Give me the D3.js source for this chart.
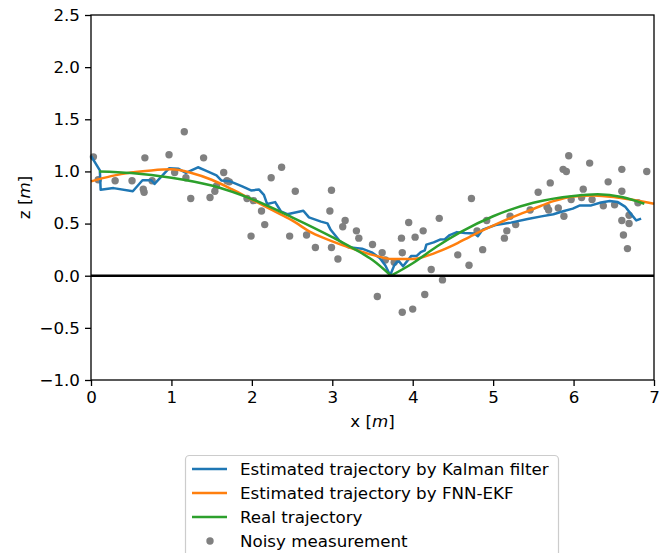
<!DOCTYPE html>
<html>
<head>
<meta charset="utf-8">
<script src="https://cdn.jsdelivr.net/npm/d3@7"></script>
<style>
  body { margin: 0; background: #fff; }
  svg text { font-family: "DejaVu Sans", sans-serif; }
</style>
</head>
<body>
<svg id="chart"></svg>
<script>
// noisy measurements (x, z)
const measX = [0.03, 0.09, 0.30, 0.51, 0.67, 0.65, 0.66, 0.76, 0.97, 1.04, 1.16, 1.18, 1.24, 1.40, 1.48, 1.54, 1.56, 1.65, 1.69, 1.72,
  1.94, 2.02, 1.99, 2.12, 2.16, 2.24, 2.37, 2.54, 2.47, 2.68, 2.79, 2.99, 2.97, 2.99, 3.07, 3.13, 3.16, 3.30, 3.33, 3.50,
  3.56, 3.62, 3.66, 3.77, 3.87, 3.86, 3.95, 4.03, 4.13, 4.33, 4.23, 4.37, 4.15, 4.00, 3.87, 4.56, 4.70, 4.73, 4.87, 4.80,
  4.92, 5.14, 5.17, 5.21, 5.28, 5.46, 5.56, 5.67, 5.69, 5.71, 5.81, 5.88, 5.87, 5.91, 5.94, 5.97, 6.12, 6.10, 6.20, 6.23,
  6.37, 6.43, 6.51, 6.60, 6.60, 6.60, 6.69, 6.69, 6.62, 6.67, 6.80, 6.91];
const measZ = [1.14, 0.92, 0.91, 0.91, 1.13, 0.83, 0.80, 0.91, 1.16, 0.99, 1.38, 0.94, 0.74, 1.13, 0.75, 0.81, 0.86, 0.99, 0.91, 0.90,
  0.74, 0.72, 0.38, 0.62, 0.49, 0.94, 1.04, 0.81, 0.38, 0.39, 0.27, 0.82, 0.62, 0.27, 0.16, 0.47, 0.53, 0.43, 0.36, 0.30,
  -0.20, 0.22, 0.15, 0.13, 0.22, 0.36, 0.51, 0.37, 0.43, 0.55, 0.06, -0.04, -0.18, -0.32, -0.35, 0.20, 0.10, 0.74, 0.25, 0.43,
  0.53, 0.36, 0.43, 0.57, 0.49, 0.63, 0.80, 0.66, 0.63, 0.89, 0.65, 0.57, 1.02, 1.00, 1.15, 0.73, 0.83, 0.75, 1.08, 0.73,
  0.67, 0.90, 0.68, 1.02, 0.81, 0.53, 0.50, 0.58, 0.39, 0.26, 0.70, 1.00];

// Kalman filter estimate
const kalmanX = [0.00, 0.11, 0.12, 0.28, 0.52, 0.64, 0.75, 0.79, 0.97, 1.09, 1.18, 1.33, 1.42, 1.56, 1.62, 1.73, 1.88, 1.99, 2.09, 2.15,
  2.19, 2.29, 2.36, 2.44, 2.64, 2.71, 2.86, 2.94, 2.98, 3.09, 3.20, 3.37, 3.49, 3.59, 3.66, 3.72, 3.77, 3.82, 3.88, 3.98,
  4.05, 4.10, 4.15, 4.17, 4.26, 4.34, 4.40, 4.46, 4.55, 4.65, 4.77, 4.81, 4.87, 5.03, 5.22, 5.43, 5.60, 5.75, 5.87, 5.99,
  6.08, 6.22, 6.34, 6.45, 6.55, 6.64, 6.72, 6.78, 6.84];
const kalmanZ = [1.15, 1.01, 0.825, 0.84, 0.81, 0.915, 0.915, 0.88, 1.03, 1.025, 0.985, 1.04, 1.01, 0.962, 0.914, 0.905, 0.857, 0.818, 0.826, 0.775,
  0.687, 0.706, 0.618, 0.59, 0.623, 0.559, 0.519, 0.502, 0.44, 0.336, 0.274, 0.259, 0.224, 0.17, 0.098, 0.005, 0.099, 0.147, 0.09, 0.188,
  0.19, 0.226, 0.243, 0.298, 0.32, 0.347, 0.35, 0.39, 0.418, 0.41, 0.405, 0.378, 0.442, 0.486, 0.509, 0.543, 0.569, 0.59, 0.618, 0.643,
  0.674, 0.674, 0.702, 0.717, 0.706, 0.663, 0.586, 0.53, 0.547];

// FNN-EKF estimate
const fnnX = [0.0, 0.25, 0.5, 0.75, 1.0, 1.25, 1.5, 1.75, 2.0, 2.25, 2.5, 2.75, 3.0, 3.25, 3.5, 3.75, 4.0, 4.25, 4.5, 4.75,
  5.0, 5.25, 5.5, 5.75, 6.0, 6.25, 6.5, 6.75, 7.0];
const fnnZ = [0.905, 0.955, 0.99, 1.01, 1.02, 0.985, 0.92, 0.83, 0.73, 0.63, 0.53, 0.41, 0.33, 0.26, 0.20, 0.16, 0.16, 0.21, 0.29, 0.39,
  0.48, 0.565, 0.64, 0.715, 0.76, 0.77, 0.755, 0.725, 0.69];

// real trajectory
const realX = [0.1, 0.5, 1.0, 1.5, 2.0, 2.5, 3.0, 3.3, 3.5, 3.73, 4.0, 4.3, 4.6, 5.0, 5.5, 6.0, 6.3, 6.6, 6.88];
const realZ = [1.00, 0.985, 0.94, 0.865, 0.735, 0.56, 0.37, 0.245, 0.15, 0.0, 0.12, 0.28, 0.42, 0.57, 0.70, 0.765, 0.78, 0.755, 0.69];

const xTicks = [0, 1, 2, 3, 4, 5, 6, 7];
const yTicks = [-1.0, -0.5, 0.0, 0.5, 1.0, 1.5, 2.0, 2.5];
const legendLabels = ["Estimated trajectory by Kalman filter", "Estimated trajectory by FNN-EKF", "Real trajectory", "Noisy measurement"];

const colors = { kalman: "#1f77b4", fnn: "#ff7f0e", real: "#2ca02c", meas: "#808080" };
const width = 671, height = 553;
const fontSize = 16.7;

const svg = d3.select("#chart").attr("width", width).attr("height", height);

const x = d3.scaleLinear().domain([0, 7]).range([91, 654]);
const y = d3.scaleLinear().domain([-1, 2.5]).range([380, 15]);

const zip = (xs, zs) => xs.map((v, i) => [v, zs[i]]);

// scatter (matplotlib collections sit under lines)
svg.append("g").selectAll("circle")
  .data(zip(measX, measZ))
  .enter().append("circle")
  .attr("cx", d => x(d[0]))
  .attr("cy", d => y(d[1]))
  .attr("r", 3.7)
  .attr("fill", colors.meas);

const line = d3.line().x(d => x(d[0])).y(d => y(d[1]));
const smooth = d3.line().x(d => x(d[0])).y(d => y(d[1])).curve(d3.curveMonotoneX);

svg.append("path").datum(zip(kalmanX, kalmanZ))
  .attr("d", line).attr("fill", "none")
  .attr("stroke", colors.kalman).attr("stroke-width", 2.5).attr("stroke-linejoin", "round");

svg.append("path").datum(zip(fnnX, fnnZ))
  .attr("d", smooth).attr("fill", "none")
  .attr("stroke", colors.fnn).attr("stroke-width", 2.5);

// real trajectory has a sharp corner at its minimum, so draw the two sides separately
const realPts = zip(realX, realZ);
const iMin = d3.minIndex(realZ);
[realPts.slice(0, iMin + 1), realPts.slice(iMin)].forEach(part => {
  svg.append("path").datum(part)
    .attr("d", smooth).attr("fill", "none")
    .attr("stroke", colors.real).attr("stroke-width", 2.5);
});

// zero line
svg.append("line")
  .attr("x1", x(0)).attr("x2", x(7))
  .attr("y1", y(0)).attr("y2", y(0))
  .attr("stroke", "#000").attr("stroke-width", 2.5);

// axes
const fmtY = d => d3.format(".1f")(d).replace("-", "\u2212");
const xAxis = svg.append("g").attr("transform", `translate(0,${y(-1)})`)
  .call(d3.axisBottom(x).tickValues(xTicks).tickSize(6).tickPadding(5).tickFormat(d3.format("d")));
const yAxis = svg.append("g").attr("transform", `translate(${x(0)},0)`)
  .call(d3.axisLeft(y).tickValues(yTicks).tickSize(6).tickPadding(5).tickFormat(fmtY));
[xAxis, yAxis].forEach(g => {
  g.select(".domain").remove();
  g.selectAll("line").attr("stroke", "#000").attr("stroke-width", 1.3);
  g.selectAll("text").attr("font-size", fontSize).attr("fill", "#000")
    .attr("font-family", "DejaVu Sans");
});

// frame
svg.append("rect")
  .attr("x", x(0)).attr("y", y(2.5))
  .attr("width", x(7) - x(0)).attr("height", y(-1) - y(2.5))
  .attr("fill", "none").attr("stroke", "#000").attr("stroke-width", 1.3);

// axis labels
const xl = svg.append("text").attr("x", (x(0) + x(7)) / 2).attr("y", 427)
  .attr("text-anchor", "middle").attr("font-size", fontSize);
xl.append("tspan").text("x [");
xl.append("tspan").attr("font-style", "italic").text("m");
xl.append("tspan").text("]");

const yl = svg.append("text")
  .attr("transform", `translate(30,${(y(2.5) + y(-1)) / 2}) rotate(-90)`)
  .attr("text-anchor", "middle").attr("font-size", fontSize);
yl.append("tspan").text("z [");
yl.append("tspan").attr("font-style", "italic").text("m");
yl.append("tspan").text("]");

// legend
const lg = svg.append("g");
lg.append("rect")
  .attr("x", 185.5).attr("y", 455.5).attr("width", 373).attr("height", 110)
  .attr("rx", 4).attr("fill", "#fff").attr("fill-opacity", 0.8)
  .attr("stroke", "#cccccc").attr("stroke-width", 1.2);
const rowY = [469, 493, 517, 541];
const swatch = [colors.kalman, colors.fnn, colors.real];
legendLabels.forEach((label, i) => {
  if (i < 3) {
    lg.append("line").attr("x1", 192).attr("x2", 227)
      .attr("y1", rowY[i]).attr("y2", rowY[i])
      .attr("stroke", swatch[i]).attr("stroke-width", 2.5);
  } else {
    lg.append("circle").attr("cx", 210).attr("cy", rowY[i]).attr("r", 3.7).attr("fill", colors.meas);
  }
  lg.append("text").attr("x", 240).attr("y", rowY[i]).attr("dy", "0.36em")
    .attr("font-size", fontSize).attr("fill", "#000").text(label);
});
</script>
</body>
</html>
